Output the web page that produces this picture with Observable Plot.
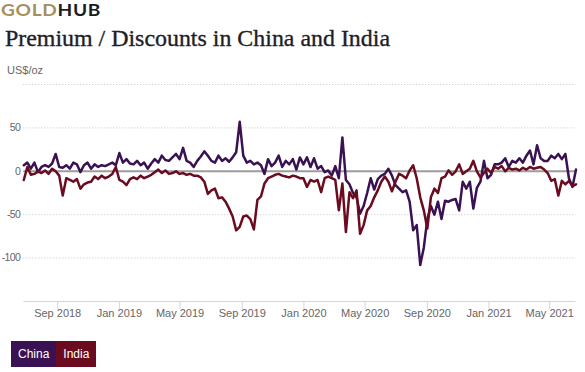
<!DOCTYPE html>
<html>
<head>
<meta charset="utf-8">
<script src="https://cdn.jsdelivr.net/npm/d3@7"></script>
<script src="https://cdn.jsdelivr.net/npm/@observablehq/plot@0.6"></script>
<style>
  html, body { margin: 0; padding: 0; background: #fff; }
  #wrap { position: relative; width: 585px; height: 372px; overflow: hidden; font-family: "Liberation Sans", Arial, sans-serif; }
  #logo { position: absolute; left: 1px; top: 0px; font-family: Lato, "Liberation Sans", sans-serif; font-weight: 700; font-size: 17px; letter-spacing: 0.6px; transform-origin: 0 0; white-space: nowrap; line-height: 20px; }
  #logo .g { color: #a68f5e; }
  #logo .h { color: #1c1c1c; }
  #title { position: absolute; left: 5px; top: 25px; font-family: "Liberation Serif", "DejaVu Serif", serif; font-size: 24px; color: #1e1e28; white-space: nowrap; -webkit-text-stroke: 0.35px #1e1e28; transform-origin: 0 0; }
  #unit { position: absolute; left: 7px; top: 64px; font-size: 11px; color: #666; }
  #chart { position: absolute; left: 0; top: 0; }
  #legend { position: absolute; left: 11px; top: 341px; display: flex; height: 26px; }
  #legend div { color: #fff; font-size: 12px; line-height: 26px; padding: 0 7px; }
  .yax text { letter-spacing: -0.6px; font-size: 10.5px; }
</style>
</head>
<body>
<div id="wrap">
  <div id="chart"></div>
  <div id="logo"><span class="g">GOLD</span><span class="h">HUB</span></div>
  <div id="title">Premium / Discounts in China and India</div>
  <div id="unit">US$/oz</div>
  <div id="legend"></div>
</div>
<script>
// Weekly samples starting at this date (one value per week)
const startDate = "2018-06-26";
const seriesNames = ["China", "India"];
const seriesColors = ["#3a1152", "#6a0b20"];
const xTickDates = ["2018-09-01", "2019-01-01", "2019-05-01", "2019-09-01", "2020-01-01", "2020-05-01", "2020-09-01", "2021-01-01", "2021-05-01"];
const yTicks = [-100, -50, 0, 50];
const yGrid = [-100, -50, 50, 100];

const china = [
  7, 10, 3, 10, -1, 5, 7, 5, 9, 20,
  5, 4, 7, 3, 10, 8, -1, 7, 10, 3,
  8, 5, 7, 6, 8, 10, 7, 21, 10, 14,
  9, 8, 12, 7, 10, 3, 9, 14, 10, 18,
  13, 12, 16, 20, 14, 27, 12, 10, 5, 12,
  17, 23, 18, 12, 10, 18, 12, 15, 11, 16,
  22, 57, 18, 10, 12, 8, 10, 7, -3, 14,
  6, 10, 18, 5, 12, 8, 14, 2, 16, 8,
  16, 5, 15, 3, 6, -1, 1, -5, 6, -8,
  39, -10, -15, -25, -30, -49, -40, -25, -8, -21,
  -9, -5, -3, 3, -5, -16, -20, -24, -22, -35,
  -68, -62, -108, -88, -55, -40, -50, -35, -55, -34,
  -35, -33, -32, -45, -12, -20, -12, -43, -19, -12,
  12, -8, -4, 8, 8, 10, 15, 5, 12, 10,
  15, 10, 18, 24, 8, 30, 15, 12, 12, 18,
  15, 20, 14, 20, -8, -18, 2
];
const india = [
  -10, 5, -4, -3, 0, -2, 1, -3, 3, 0,
  -5, -28, -8, -10, -12, -9, -20, -15, -13, -12,
  -6, -9, -5, -8, -6, -3, 5, -10, -12, -16,
  -9, -7, -9, -5, -8, -6, -4, -1, 2, -2,
  1, -3, -2, 0, -3, -2, -4, -3, -5, -5,
  -7, -12, -26, -22, -20, -31, -30, -35, -43, -52,
  -68, -64, -52, -51, -55, -67, -33, -29, -14, -8,
  -6, -4, -3, -5, -6, -7, -5, -6, -8, -8,
  -18, -10, -12, -10, -24, -8, -6, -8, -10, -45,
  -14, -70, -24, -31, -22, -72, -62, -45, -40, -30,
  -22, -12, -6, -12, -23, -12, -3, -5, -8, 1,
  7, -8, -30, -45, -66, -30, -20, -25, -8, -6,
  1, -4, 0, 8, -3, 0, 3, 12, 0, -7,
  -2, 3, -2, 5, 3, 6, 0, 4, 2, 3,
  1, 4, 2, 5, 3, 4, 5, 2, -2, -11,
  -9, -28, -11, -15, -11, -17, -15
];

const t0 = d3.utcParse("%Y-%m-%d")(startDate);
const toRows = (vals, name) => vals.map((v, i) => ({date: d3.utcDay.offset(t0, 7 * i), value: v, series: name}));
const chinaRows = toRows(china, seriesNames[0]);
const indiaRows = toRows(india, seriesNames[1]);
const tickDates = xTickDates.map(d3.utcParse("%Y-%m-%d"));

const chart = Plot.plot({
  width: 585,
  height: 335,
  marginLeft: 23.3,
  marginRight: 9.5,
  marginTop: 84,
  marginBottom: 34,
  style: {fontFamily: "'Liberation Sans', Arial, sans-serif", fontSize: "11px", background: "transparent", overflow: "visible"},
  x: {type: "utc", domain: [chinaRows[0].date, chinaRows[chinaRows.length - 1].date]},
  y: {domain: [-150, 100]},
  marks: [
    Plot.ruleY(yGrid, {stroke: "#c4c4c4", strokeDasharray: "1,2", strokeWidth: 1}),
    Plot.ruleY([-150], {stroke: "#ccd6eb", strokeWidth: 1}),
    Plot.axisX({ticks: tickDates, tickFormat: d3.utcFormat("%b %Y"), tickSize: 8, tickPadding: 0, stroke: "#ccd6eb", fill: "#666", label: null}),
    Plot.axisY({ticks: yTicks, tickFormat: d => String(d), tickSize: 0, tickPadding: 3.5, fill: "#666", label: null, className: "yax"}),
    Plot.ruleY([0], {stroke: "#9c9c9c", strokeWidth: 2}),
    Plot.line(chinaRows, {x: "date", y: "value", stroke: seriesColors[0], strokeWidth: 2.5, strokeLinejoin: "round"}),
    Plot.line(indiaRows, {x: "date", y: "value", stroke: seriesColors[1], strokeWidth: 2.5, strokeLinejoin: "round"})
  ]
});
document.getElementById("chart").appendChild(chart);

const legend = document.getElementById("legend");
seriesNames.forEach((n, i) => {
  const d = document.createElement("div");
  d.textContent = n;
  d.style.background = seriesColors[i];
  legend.appendChild(d);
});

// fit header texts to the reference widths
function fitWidth(el, w) {
  const r = el.getBoundingClientRect().width;
  if (r > 0) el.style.transform = `scaleX(${w / r})`;
}
fitWidth(document.getElementById("logo"), 100);
fitWidth(document.getElementById("title"), 385);
</script>
</body>
</html>
